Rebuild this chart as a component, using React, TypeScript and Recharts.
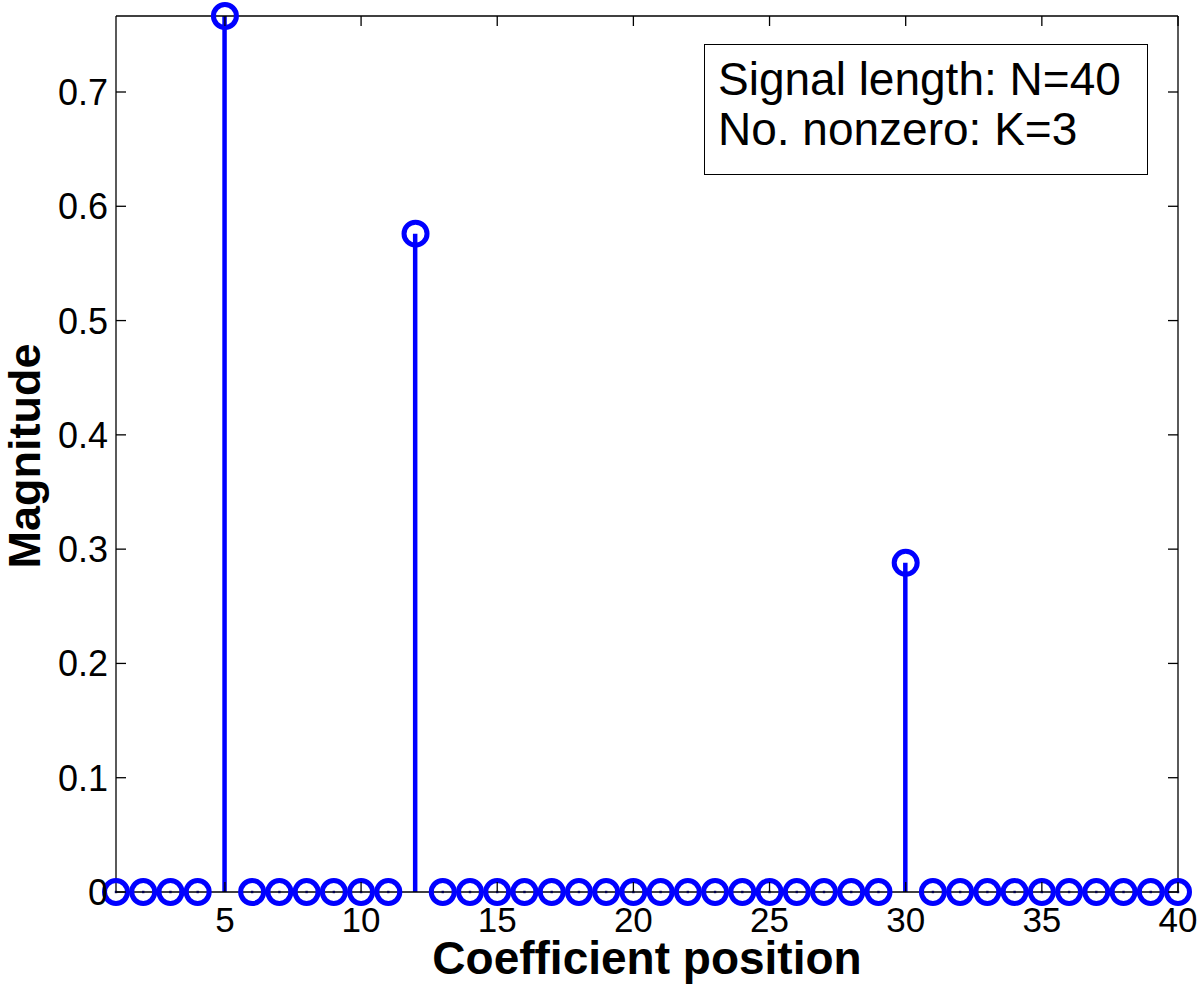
import React from 'react';
import { ComposedChart, Bar, Scatter, XAxis, YAxis } from 'recharts';

const positions = [
  1, 2, 3, 4, 5, 6, 7, 8, 9, 10,
  11, 12, 13, 14, 15, 16, 17, 18, 19, 20,
  21, 22, 23, 24, 25, 26, 27, 28, 29, 30,
  31, 32, 33, 34, 35, 36, 37, 38, 39, 40,
];
const magnitudes = [
  0, 0, 0, 0, 0.7665, 0, 0, 0, 0, 0,
  0, 0.576, 0, 0, 0, 0, 0, 0, 0, 0,
  0, 0, 0, 0, 0, 0, 0, 0, 0, 0.288,
  0, 0, 0, 0, 0, 0, 0, 0, 0, 0,
];
const xTicks = [5, 10, 15, 20, 25, 30, 35, 40];
const yTicks = [0, 0.1, 0.2, 0.3, 0.4, 0.5, 0.6, 0.7];
const xDomain = [1, 40];
const yDomain = [0, 0.7665];
const legendLines = ['Signal length: N=40', 'No. nonzero: K=3'];
const xTitle = 'Coefficient position';
const yTitle = 'Magnitude';

const data = positions.map((p, i) => ({ pos: p, mag: magnitudes[i] }));

const FONT = '"Liberation Sans", Arial, Helvetica, sans-serif';
const BLUE = '#0000ff';
const TICK_LEN = 10;

const BottomTick = (props: any) => {
  const { x, y, payload } = props;
  return (
    <g>
      <line x1={x} y1={y} x2={x} y2={y - TICK_LEN} stroke="#000" strokeWidth={1.3} />
      <text x={x} y={y + 40} textAnchor="middle" fontSize={35} fontFamily={FONT} fill="#000">
        {payload.value}
      </text>
    </g>
  );
};

const TopTick = (props: any) => {
  const { x, y } = props;
  return <line x1={x} y1={y} x2={x} y2={y + TICK_LEN} stroke="#000" strokeWidth={1.3} />;
};

const LeftTick = (props: any) => {
  const { x, y, payload } = props;
  return (
    <g>
      <line x1={x} y1={y} x2={x + TICK_LEN} y2={y} stroke="#000" strokeWidth={1.3} />
      <text x={x - 8} y={y + 13} textAnchor="end" fontSize={36} fontFamily={FONT} fill="#000">
        {payload.value}
      </text>
    </g>
  );
};

const RightTick = (props: any) => {
  const { x, y } = props;
  return <line x1={x} y1={y} x2={x - TICK_LEN} y2={y} stroke="#000" strokeWidth={1.3} />;
};

const StemHead = (props: any) => {
  const { cx, cy, payload } = props;
  if (cx == null || cy == null) return null;
  return (
    <g>
      <circle cx={cx} cy={cy} r={11.5} fill="none" stroke={BLUE} strokeWidth={5} />
      {payload && payload.mag === 0 ? (
        <rect x={cx - 1.2} y={cy - 1.2} width={2.4} height={2.4} fill="#000050" />
      ) : null}
    </g>
  );
};

const XTitle = (props: any) => {
  const vb = props.viewBox || {};
  return (
    <text
      x={vb.x + vb.width / 2}
      y={vb.y + 82}
      textAnchor="middle"
      fontSize={46}
      fontWeight="bold"
      fontFamily={FONT}
      fill="#000"
    >
      {xTitle}
    </text>
  );
};

const YTitle = (props: any) => {
  const vb = props.viewBox || {};
  const cx = 40;
  const cy = vb.y + vb.height / 2 + 2;
  return (
    <text
      x={cx}
      y={cy}
      transform={`rotate(-90, ${cx}, ${cy})`}
      textAnchor="middle"
      fontSize={45}
      fontWeight="bold"
      fontFamily={FONT}
      fill="#000"
    >
      {yTitle}
    </text>
  );
};

export default function App() {
  return (
    <div style={{ position: 'absolute', left: 0, top: 0, width: 1200, height: 988, background: '#fff' }}>
      <ComposedChart
        width={1200}
        height={988}
        data={data}
        margin={{ top: 15, right: 21, bottom: 0, left: 0 }}
      >
        <XAxis
          xAxisId="bottom"
          dataKey="pos"
          type="number"
          domain={xDomain}
          ticks={xTicks}
          height={96}
          tickSize={0}
          tickMargin={0}
          tickLine={false}
          tick={<BottomTick />}
          axisLine={{ stroke: '#000', strokeWidth: 1.3 }}
          label={<XTitle />}
          interval={0}
        />
        <XAxis
          xAxisId="top"
          orientation="top"
          dataKey="pos"
          type="number"
          domain={xDomain}
          ticks={xTicks}
          height={1}
          tickSize={0}
          tickMargin={0}
          tickLine={false}
          tick={<TopTick />}
          axisLine={{ stroke: '#000', strokeWidth: 1.3 }}
          interval={0}
        />
        <YAxis
          yAxisId="left"
          type="number"
          domain={yDomain}
          ticks={yTicks}
          width={116}
          tickSize={0}
          tickMargin={0}
          tickLine={false}
          tick={<LeftTick />}
          axisLine={{ stroke: '#000', strokeWidth: 1.3 }}
          label={<YTitle />}
          interval={0}
        />
        <YAxis
          yAxisId="right"
          orientation="right"
          type="number"
          domain={yDomain}
          ticks={yTicks}
          width={1}
          tickSize={0}
          tickMargin={0}
          tickLine={false}
          tick={<RightTick />}
          axisLine={{ stroke: '#000', strokeWidth: 1.3 }}
          interval={0}
        />
        <Bar
          xAxisId="bottom"
          yAxisId="left"
          dataKey="mag"
          barSize={4.5}
          fill={BLUE}
          isAnimationActive={false}
        />
        <Scatter
          xAxisId="top"
          yAxisId="right"
          dataKey="mag"
          fill="none"
          shape={() => null}
          isAnimationActive={false}
        />
        <Scatter
          xAxisId="bottom"
          yAxisId="left"
          dataKey="mag"
          shape={<StemHead />}
          isAnimationActive={false}
        />
      </ComposedChart>
      <div
        style={{
          position: 'absolute',
          left: 704,
          top: 44,
          width: 444,
          height: 131,
          boxSizing: 'border-box',
          border: '1.3px solid #000',
          background: '#fff',
          paddingLeft: 13,
          paddingTop: 9,
          fontFamily: FONT,
          fontSize: 46,
          lineHeight: '50px',
          color: '#000',
          whiteSpace: 'nowrap',
        }}
      >
        {legendLines.map((l) => (
          <div key={l}>{l}</div>
        ))}
      </div>
    </div>
  );
}
